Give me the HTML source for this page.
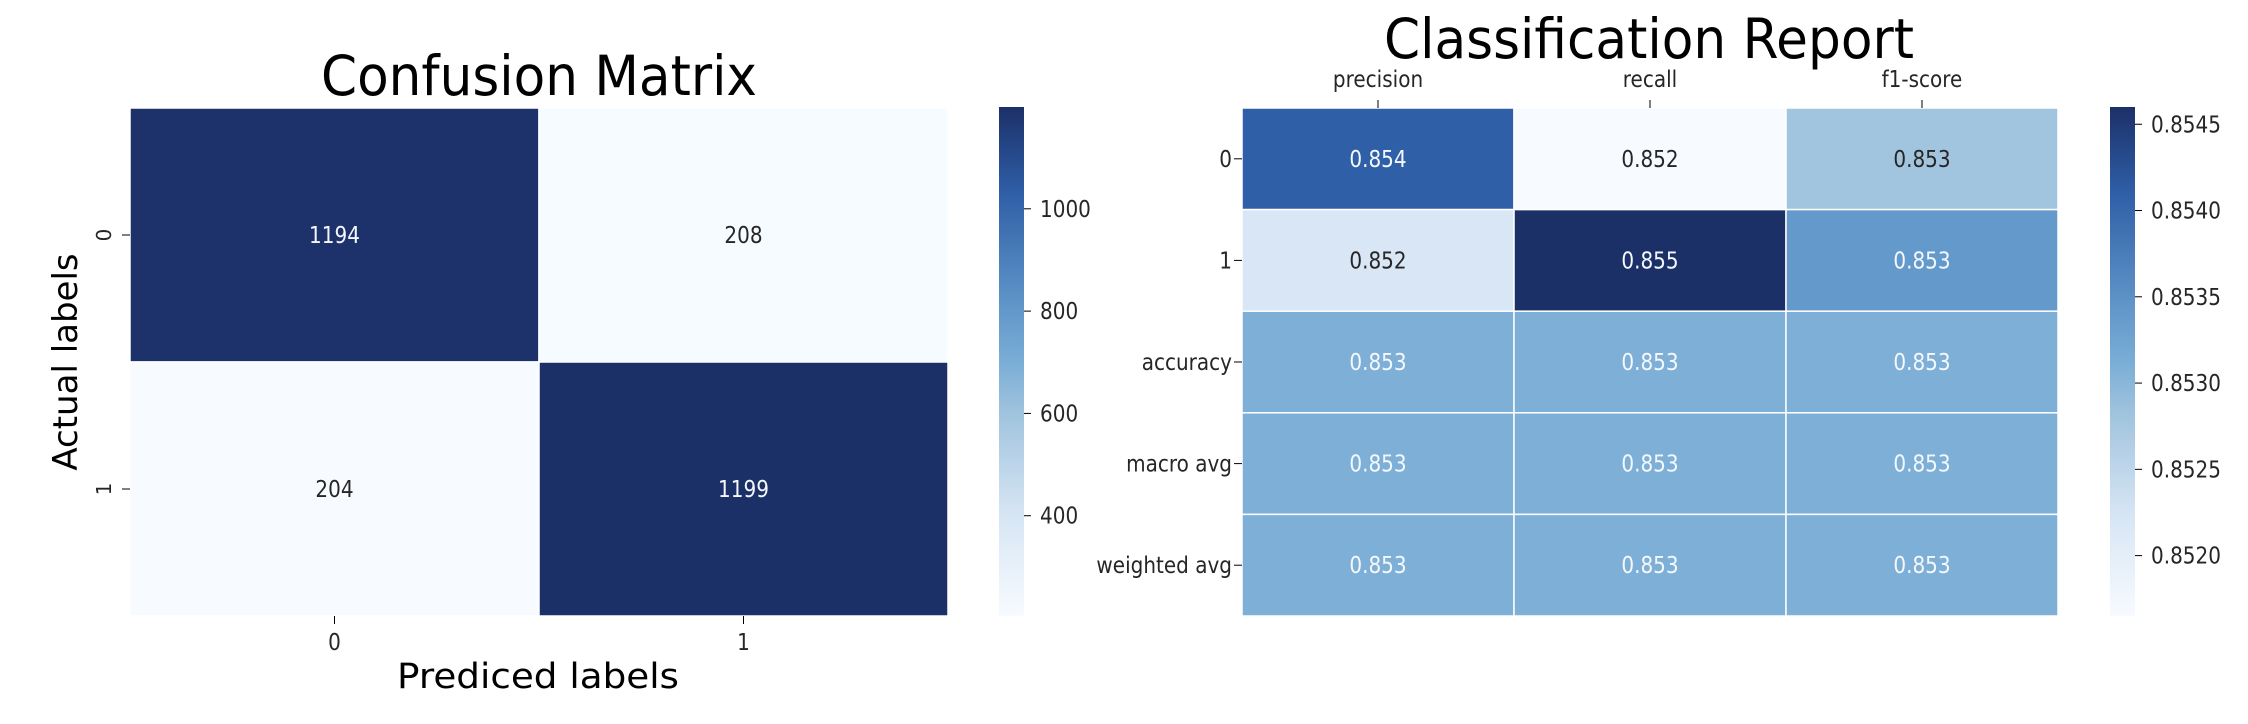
<!DOCTYPE html>
<html><head><meta charset="utf-8"><style>
html,body{margin:0;padding:0;background:#fff;}
svg{display:block;font-family:"DejaVu Sans","Liberation Sans",sans-serif;}
</style></head>
<body>
<svg id="fig" width="2248" height="724" viewBox="0 0 2248 724" xmlns="http://www.w3.org/2000/svg">
<defs>
<linearGradient id="blues" x1="0" y1="1" x2="0" y2="0">
<stop offset="0" stop-color="#f7fbff"/><stop offset="0.2" stop-color="#d6e5f4"/><stop offset="0.4" stop-color="#9fc3de"/><stop offset="0.5" stop-color="#7aadd6"/><stop offset="0.6" stop-color="#6298ca"/><stop offset="0.83" stop-color="#2f5fa7"/><stop offset="1" stop-color="#1c3068"/>
</linearGradient>
</defs>
<text x="539" y="95" font-size="55" text-anchor="middle" textLength="436" lengthAdjust="spacingAndGlyphs">Confusion Matrix</text>
<text x="538" y="688" font-size="35" text-anchor="middle" textLength="282" lengthAdjust="spacingAndGlyphs">Prediced labels</text>
<text transform="translate(77,362) rotate(-90)" font-size="34" text-anchor="middle">Actual labels</text>
<text x="1649" y="58" font-size="55" text-anchor="middle" textLength="530" lengthAdjust="spacingAndGlyphs">Classification Report</text>
<g id="cm"></g>
<g id="cr"></g>
</svg>
<script>
const cmRows = ["0","1"];
const cmCols = ["0","1"];
const cmValues = [[1194,208],[204,1199]];
const cmTicks = [400,600,800,1000];

const crRows = ["0","1","accuracy","macro avg","weighted avg"];
const crCols = ["precision","recall","f1-score"];
const crPrecision = [0.8541,0.8522,0.8531,0.8531,0.8531];
const crRecall = [0.85165,0.8546,0.8531,0.8531,0.8531];
const crF1 = [0.8528,0.8534,0.8531,0.8531,0.8531];
const crTicks = ["0.8520","0.8525","0.8530","0.8535","0.8540","0.8545"];

const NS = "http://www.w3.org/2000/svg";
const stopPos = [0,0.2,0.4,0.5,0.6,0.83,1];
const stopCol = ["#f7fbff","#d6e5f4","#9fc3de","#7aadd6","#6298ca","#2f5fa7","#1c3068"];
function hex(h){return [1,3,5].map(i=>parseInt(h.substr(i,2),16));}
function blues(t){t=Math.max(0,Math.min(1,t));let i=0;while(i<stopPos.length-2&&t>stopPos[i+1])i++;const f=(t-stopPos[i])/(stopPos[i+1]-stopPos[i]);const a=hex(stopCol[i]),b=hex(stopCol[i+1]);return "rgb("+a.map((v,k)=>Math.round(v+(b[k]-v)*f)).join(",")+")";}
function mk(parent,tag,attrs,txt){const e=document.createElementNS(NS,tag);for(const k in attrs)e.setAttribute(k,attrs[k]);if(txt!==undefined)e.textContent=txt;parent.appendChild(e);return e;}
function ctext(parent,x,y,s,anchor,fill,rot){
  const tr=`translate(${x},${y})`+(rot?' rotate(-90)':'')+' scale(0.87,1)';
  return mk(parent,"text",{transform:tr,x:0,y:0,"font-size":23,"text-anchor":anchor,fill:fill},s);
}

function heatmap(g,opt){
  const {x0,x1,y0,y1,rows,cols,get,vmin,vmax,fmt,cbx,ticks,tickVal,topLabels,rotY,prefix}=opt;
  const cw=(x1-x0)/cols.length, rh=(y1-y0)/rows.length;
  const sc=v=>(v-vmin)/(vmax-vmin);
  for(let r=0;r<rows.length;r++)for(let c=0;c<cols.length;c++){
    const v=get(r,c),t=sc(v);
    const rect=mk(g,"rect",{x:x0+c*cw,y:y0+r*rh,width:cw,height:rh,fill:blues(t),stroke:"#fff","stroke-width":1.5});
    
    
    const tx=ctext(g,x0+(c+.5)*cw,y0+(r+.5)*rh+8,fmt(v),"middle",t>0.45?"#f4f8fc":"#262626");
    
    
  }
  cols.forEach((c,i)=>{
    const cx=x0+(i+.5)*cw;
    let t;
    if(topLabels){
      mk(g,"line",{x1:cx,x2:cx,y1:y0-8,y2:y0,stroke:"#000","stroke-width":1});
      t=ctext(g,cx,y0-21,c,"middle","#262626");
    } else {
      mk(g,"line",{x1:cx,x2:cx,y1:y1,y2:y1+8,stroke:"#000","stroke-width":1});
      t=ctext(g,cx,y1+34,c,"middle","#262626");
    }
    
    
  });
  rows.forEach((r,i)=>{
    const cy=y0+(i+.5)*rh;
    mk(g,"line",{x1:x0-8,x2:x0,y1:cy,y2:cy,stroke:"#000","stroke-width":1});
    let t;
    if(rotY) t=mk(g,"text",{transform:`translate(${x0-19},${cy}) rotate(-90)`,"font-size":20,"text-anchor":"middle",fill:"#262626"},r);
    else t=ctext(g,x0-10,cy+8,r,"end","#262626");
    
    
  });
  const cb=mk(g,"rect",{x:cbx,y:y0-1,width:25,height:y1-y0+1,fill:"url(#blues)"});
  
  
  ticks.forEach(tk=>{
    const v=tickVal(tk), y=y1-(v-vmin)/(vmax-vmin)*(y1-y0+1);
    mk(g,"line",{x1:cbx+25,x2:cbx+32,y1:y,y2:y,stroke:"#000","stroke-width":1});
    const t=ctext(g,cbx+41,y+8,String(tk),"start","#262626");
    
    
  });
}
const cmFlat=cmValues.flat();
heatmap(document.getElementById("cm"),{x0:130,x1:948,y0:108,y1:616,rows:cmRows,cols:cmCols,
  get:(r,c)=>cmValues[r][c],vmin:Math.min(...cmFlat),vmax:Math.max(...cmFlat),fmt:v=>String(v),
  cbx:999,ticks:cmTicks,tickVal:t=>t,topLabels:false,rotY:true,prefix:"confusion"});
const crSeries=[crPrecision,crRecall,crF1];
const crFlat=crSeries.flat();
heatmap(document.getElementById("cr"),{x0:1242,x1:2058,y0:108,y1:616,rows:crRows,cols:crCols,
  get:(r,c)=>crSeries[c][r],vmin:Math.min(...crFlat),vmax:Math.max(...crFlat),fmt:v=>v.toFixed(3),
  cbx:2110,ticks:crTicks,tickVal:t=>parseFloat(t),topLabels:true,rotY:false,prefix:"report"});
</script>
</body></html>
